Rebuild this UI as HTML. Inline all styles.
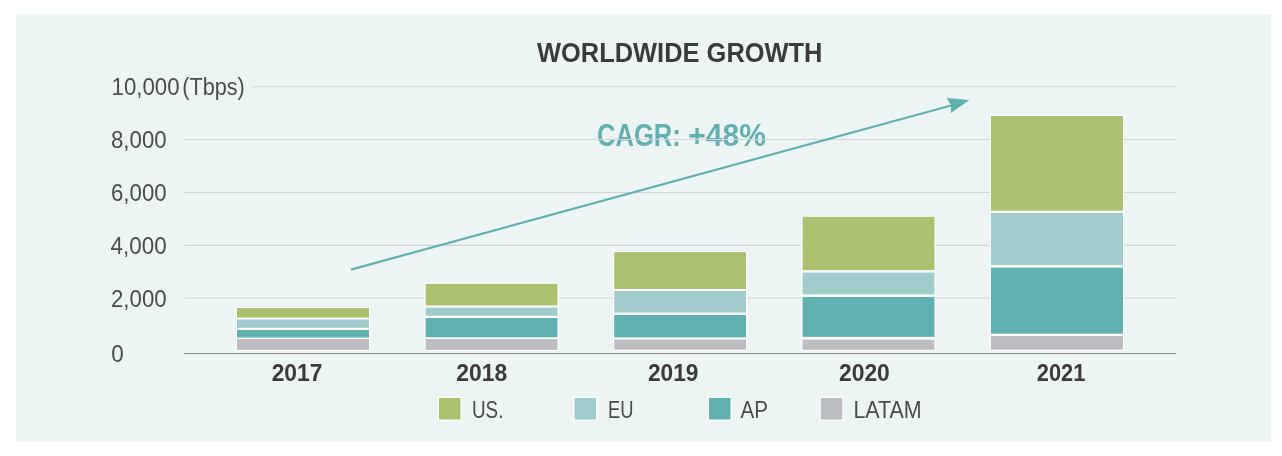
<!DOCTYPE html>
<html lang="en">
<head>
<meta charset="utf-8">
<title>Worldwide Growth</title>
<style>
  html, body { margin: 0; padding: 0; background: #ffffff; }
  body { width: 1282px; height: 456px; overflow: hidden; }
  svg { display: block; }
  text { font-family: "Liberation Sans", sans-serif; }
  .title { font-weight: 700; font-size: 27px; fill: #3b3b3b; }
  .ytick { font-weight: 400; font-size: 23px; fill: #4a4c4c; }
  .year  { font-weight: 700; font-size: 23.5px; fill: #3b3b3b; }
  .leg   { font-weight: 400; font-size: 24px; fill: #4a4c4c; }
  .cagr  { font-weight: 700; font-size: 30.5px; fill: #62b0b0; }
  .grid  { stroke: #d1d3d5; stroke-width: 1.1; }
  .seg   { stroke: #ffffff; stroke-width: 2.3; paint-order: stroke; }
</style>
</head>
<body>
<svg role="img" aria-label="Worldwide growth, stacked bar chart 2017 to 2021" width="1282" height="456" viewBox="0 0 1282 456">
  <rect x="16" y="14" width="1255" height="428" fill="#edf5f4"/>

  <text class="title" x="537" y="62" textLength="285.5" lengthAdjust="spacingAndGlyphs">WORLDWIDE GROWTH</text>

  <text class="cagr" y="146"><tspan x="596.9" textLength="84" lengthAdjust="spacingAndGlyphs">CAGR:</tspan> <tspan x="688.3" textLength="77.7" lengthAdjust="spacingAndGlyphs">+48%</tspan></text>

  <g class="grid">
    <line x1="251.8" y1="86.7" x2="1176" y2="86.7"/>
    <line x1="184.2" y1="139.5" x2="1176" y2="139.5"/>
    <line x1="184.2" y1="192.5" x2="1176" y2="192.5"/>
    <line x1="184.2" y1="245.4" x2="1176" y2="245.4"/>
    <line x1="184.2" y1="298" x2="1176" y2="298"/>
  </g>
  <line x1="184.2" y1="353.5" x2="1176" y2="353.5" stroke="#8a8c8c" stroke-width="1.2"/>

  <text class="ytick" y="95"><tspan x="111.6" textLength="68" lengthAdjust="spacingAndGlyphs">10,000</tspan><tspan x="182.2" textLength="62.6" lengthAdjust="spacingAndGlyphs">(Tbps)</tspan></text>
  <text class="ytick" x="111" y="148" textLength="55.6" lengthAdjust="spacingAndGlyphs">8,000</text>
  <text class="ytick" x="111" y="201" textLength="55.6" lengthAdjust="spacingAndGlyphs">6,000</text>
  <text class="ytick" x="110.6" y="254" textLength="56" lengthAdjust="spacingAndGlyphs">4,000</text>
  <text class="ytick" x="111" y="307" textLength="55.6" lengthAdjust="spacingAndGlyphs">2,000</text>
  <text class="ytick" x="111.3" y="362" textLength="12.5" lengthAdjust="spacingAndGlyphs">0</text>

  <line x1="351" y1="269.6" x2="952" y2="105.2" stroke="#62b0b0" stroke-width="2.2"/>
  <polygon points="969.4,100.1 946.7,98 950.9,105.2 950.9,113.1" fill="#62b0b0"/>

  <g class="seg">
    <!-- 2017 -->
    <rect x="237" y="308.1" width="132" height="9.5"  fill="#acc170"/>
    <rect x="237" y="319.5" width="132" height="8.3"  fill="#a0cccb"/>
    <rect x="237" y="329.9" width="132" height="7.7"  fill="#62b1b1"/>
    <rect x="237" y="339.1" width="132" height="10.8" fill="#bcbdc0"/>
    <!-- 2018 -->
    <rect x="425.6" y="283.8" width="131.9" height="21.7" fill="#acc170"/>
    <rect x="425.6" y="307.5" width="131.9" height="8.3"  fill="#a0cccb"/>
    <rect x="425.6" y="318"   width="131.9" height="19.3" fill="#62b1b1"/>
    <rect x="425.6" y="339.1" width="131.9" height="10.8" fill="#bcbdc0"/>
    <!-- 2019 -->
    <rect x="614.2" y="252.1" width="131.8" height="36.9" fill="#acc170"/>
    <rect x="614.2" y="291"   width="131.8" height="21.6" fill="#a0cccb"/>
    <rect x="614.2" y="315"   width="131.8" height="22.4" fill="#62b1b1"/>
    <rect x="614.2" y="339.5" width="131.8" height="10.2" fill="#bcbdc0"/>
    <!-- 2020 -->
    <rect x="802.55" y="216.8" width="131.9" height="53.4" fill="#acc170"/>
    <rect x="802.55" y="272.6" width="131.9" height="21.8" fill="#a0cccb"/>
    <rect x="802.55" y="296.9" width="131.9" height="40" fill="#62b1b1"/>
    <rect x="802.55" y="339.6" width="131.9" height="10.2" fill="#bcbdc0"/>
    <!-- 2021 -->
    <rect x="990.9" y="116"   width="132.1" height="94.7" fill="#acc170"/>
    <rect x="990.9" y="212.9" width="132.1" height="52.4" fill="#a0cccb"/>
    <rect x="990.9" y="267.6" width="132.1" height="66.1" fill="#62b1b1"/>
    <rect x="990.9" y="336"   width="132.1" height="13.7" fill="#bcbdc0"/>
  </g>

  <text class="year" x="271.7"  y="381.2" textLength="50.7" lengthAdjust="spacingAndGlyphs">2017</text>
  <text class="year" x="456.3"  y="381.2" textLength="51"   lengthAdjust="spacingAndGlyphs">2018</text>
  <text class="year" x="648"    y="381.2" textLength="50.4" lengthAdjust="spacingAndGlyphs">2019</text>
  <text class="year" x="839"    y="381.2" textLength="50.8" lengthAdjust="spacingAndGlyphs">2020</text>
  <text class="year" x="1036.8" y="381.2" textLength="48.5" lengthAdjust="spacingAndGlyphs">2021</text>

  <g class="seg">
    <rect x="439"   y="398" width="21.5" height="21.5" fill="#acc170"/>
    <rect x="574.5" y="398" width="21.5" height="21.5" fill="#a0cccb"/>
    <rect x="709" y="398" width="21.5" height="21.5" fill="#62b1b1"/>
    <rect x="820.8" y="398" width="21.5" height="21.5" fill="#bcbdc0"/>
  </g>
  <text class="leg" x="472" y="418" textLength="31.4" lengthAdjust="spacingAndGlyphs">US.</text>
  <text class="leg" x="608"   y="418" textLength="25.5" lengthAdjust="spacingAndGlyphs">EU</text>
  <text class="leg" x="740.6" y="418" textLength="27.4" lengthAdjust="spacingAndGlyphs">AP</text>
  <text class="leg" x="853.4" y="418" textLength="68.2" lengthAdjust="spacingAndGlyphs">LATAM</text>
</svg>
</body>
</html>
